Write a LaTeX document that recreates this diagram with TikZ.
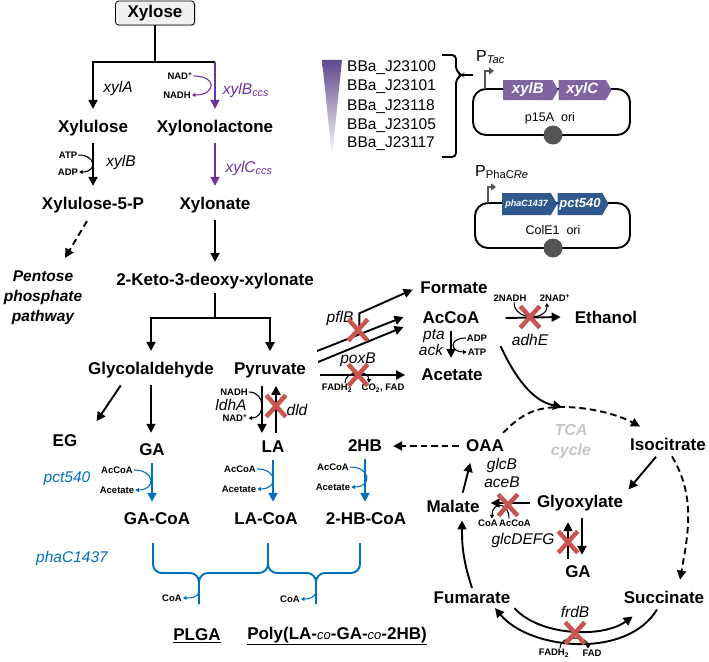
\documentclass[tikz,border=0pt]{standalone}
\usepackage{fontspec}
\setmainfont{Liberation Sans}
\usetikzlibrary{arrows.meta,shapes.misc,shapes.symbols,shadows}
\definecolor{pu}{RGB}{112,48,160}
\definecolor{pg}{RGB}{128,100,162}
\definecolor{tri}{RGB}{96,74,140}
\definecolor{bl}{RGB}{0,112,192}
\definecolor{bg}{RGB}{47,88,140}
\definecolor{xr}{RGB}{200,85,80}
\definecolor{dg}{RGB}{85,85,85}
\tikzset{
    MB/.style ={font=\fontsize{17}{20}\selectfont\bfseries, inner sep=4pt},
    XB/.style ={MB, rectangle, rounded corners=3pt, draw, thick, fill=gray!12, minimum width=79pt, minimum height=23pt, drop shadow={shadow xshift=1.5pt, shadow yshift=-1.5pt, fill=gray!60}},
    PP/.style ={font=\fontsize{15.5}{20}\selectfont\bfseries\itshape, align=center, inner sep=2pt},
    TC/.style ={PP, font=\fontsize{16}{20}\selectfont\bfseries\itshape, text=gray!45},
    EN/.style ={font=\fontsize{15.5}{17}\selectfont\itshape, inner sep=1pt},
    SM/.style ={font=\fontsize{9.5}{11}\selectfont\bfseries, inner sep=1pt},
    BB/.style ={font=\fontsize{15.5}{17}\selectfont, anchor=west, inner sep=0pt},
    GE/.style ={signal, signal to=east, signal pointer angle=120, anchor=west, minimum height=20pt, inner sep=0pt, text=white, font=\fontsize{15}{17}\selectfont\bfseries\itshape},
    AR/.style ={line width=1.9pt, -{Triangle[length=9pt,width=9pt]}},
    LN/.style ={line width=1.9pt},
    SH/.style ={shorten <=3pt, shorten >=7pt},
    DA/.style ={AR, dash pattern=on 6.5pt off 4pt},
    CF/.style ={line width=1.1pt, -{Triangle[length=3.5pt,width=4pt]}},
    BR/.style ={bl, line width=1.9pt, rounded corners=9pt},
    XX/.style ={cross out, draw=xr, line width=4.5pt, minimum width=15pt, minimum height=17pt, inner sep=0pt},
    OR/.style ={circle, fill=dg, minimum size=19pt, inner sep=0pt}}

\begin{document}
\begin{tikzpicture}[x=1pt,y=-1pt]
        \useasboundingbox (0,0) rectangle (709,661);
        \node[XB] (1) at (155,13){Xylose};
        \node[MB] (2) at (93,128){Xylulose};
        \node[MB] (3) at (215,128){Xylonolactone};
        \node[MB] (4) at (93,205){Xylulose-5-P};
        \node[MB] (5) at (215,205){Xylonate};
        \node[PP] (6) at (43,298){Pentose\\phosphate\\pathway};
        \node[MB] (7) at (215,281){2-Keto-3-deoxy-xylonate};
        \node[MB] (8) at (151,370){Glycolaldehyde};
        \node[MB] (9) at (270,370){Pyruvate};
        \node[MB] (10) at (65,441){EG};
        \node[MB] (11) at (152,450){GA};
        \node[MB] (12) at (273,447){LA};
        \node[MB] (13) at (365,446){2HB};
        \node[MB] (14) at (157,519){GA-CoA};
        \node[MB] (15) at (266,519){LA-CoA};
        \node[MB] (16) at (366,519){2-HB-CoA};
        \node[MB] (17) at (197,636){\underline{PLGA}};
        \node[MB] (18) at (337,636){\underline{Poly(LA-{\fontsize{13}{15}\selectfont\mdseries\itshape co}-GA-{\fontsize{13}{15}\selectfont\mdseries\itshape co}-2HB)}};
        \node[MB] (19) at (454,288){Formate};
        \node[MB] (20) at (451,318){AcCoA};
        \node[MB] (21) at (452,375){Acetate};
        \node[MB] (22) at (606,317){Ethanol};
        \node[MB] (23) at (485,446){OAA};
        \node[MB] (24) at (668,444){Isocitrate};
        \node[MB] (25) at (453,506){Malate};
        \node[MB] (26) at (580,503){Glyoxylate};
        \node[MB] (27) at (578,572){GA};
        \node[MB] (28) at (472,598){Fumarate};
        \node[MB] (29) at (664,597){Succinate};
        \node[TC] (30) at (571,442){TCA\\cycle};
        \node[EN] (e1) at (118,88){xylA};
        \node[EN, text=pu] (e2) at (246,90){xylB\textsubscript{ccs}};
        \node[EN] (e3) at (121,162){xylB};
        \node[EN, text=pu] (e4) at (249,168){xylC\textsubscript{ccs}};
        \node[EN] (e5) at (231,405){ldhA};
        \node[EN] (e6) at (297,410){dld};
        \node[EN, text=bl] (e7) at (67,479){pct540};
        \node[EN, text=bl] (e8) at (72,558){phaC1437};
        \node[EN] (e9) at (340,318){pflB};
        \node[EN] (e10) at (358,360){poxB};
        \node[EN] (e11) at (434,336){pta};
        \node[EN] (e12) at (431,350){ack};
        \node[EN] (e13) at (530,340){adhE};
        \node[EN] (e14) at (502,465){glcB};
        \node[EN] (e15) at (502,482){aceB};
        \node[EN] (e16) at (523,540){glcDEFG};
        \node[EN] (e17) at (575,612){frdB};
        \node[SM] (s1) at (180,76){NAD\textsuperscript{+}};
        \node[SM] (s2) at (177,95){NADH};
        \node[SM] (s3) at (68,155){ATP};
        \node[SM] (s4) at (68,172){ADP};
        \node[SM] (s5) at (234,392){NADH};
        \node[SM] (s6) at (235,418){NAD\textsuperscript{+}};
        \node[SM] (s7) at (117,470){AcCoA};
        \node[SM] (s8) at (117,490){Acetate};
        \node[SM] (s9) at (240,469){AcCoA};
        \node[SM] (s10) at (239,489){Acetate};
        \node[SM] (s11) at (333,467){AcCoA};
        \node[SM] (s12) at (333,487){Acetate};
        \node[SM] (s13) at (172,598){CoA};
        \node[SM] (s14) at (290,599){CoA};
        \node[SM] (s15) at (337,388){FADH\textsubscript{2}};
        \node[SM] (s16) at (383,388){CO\textsubscript{2}, FAD};
        \node[SM] (s17) at (477,338){ADP};
        \node[SM] (s18) at (477,352){ATP};
        \node[SM] (s19) at (510,298){2NADH};
        \node[SM] (s20) at (555,298){2NAD\textsuperscript{+}};
        \node[SM] (s21) at (488,523){CoA};
        \node[SM] (s22) at (515,523){AcCoA};
        \node[SM] (s23) at (554,653){FADH\textsubscript{2}};
        \node[SM] (s24) at (592,653){FAD};
        \node[BB] (b1) at (347,68){BBa\_J23100};
        \node[BB] (b2) at (347,87){BBa\_J23101};
        \node[BB] (b3) at (347,107){BBa\_J23118};
        \node[BB] (b4) at (347,126){BBa\_J23105};
        \node[BB] (b5) at (347,144){BBa\_J23117};
        \node[font=\fontsize{16}{18}\selectfont, inner sep=0pt, anchor=west] (p1) at (476,57){P\textsubscript{\itshape Tac}};
        \node[font=\fontsize{16}{18}\selectfont, inner sep=0pt, anchor=west] (p2) at (475,172){P\textsubscript{PhaC\itshape Re}};
        \node[font=\fontsize{12.5}{14}\selectfont] (p3) at (550,118){p15A~~ori};
        \node[font=\fontsize{12.5}{14}\selectfont] (p4) at (553,230){ColE1~~ori};
        \coordinate (c1) at (155,62);
        \coordinate (c2) at (215,318);
        \coordinate (t1) at (562,407);
        \coordinate (k1) at (199,604);
        \coordinate (k2) at (316,604);
        \draw[LN] (1) -- (c1);
        \draw[AR, shorten >=7pt] (c1) -| (2);
        \draw[LN] (c1) -- (c1 -| 3);
        \draw[AR, pu, shorten >=7pt] (c1 -| 3) -- (3);
        \draw[CF, pu] (s1.east) .. controls +(24,0) and +(24,0) .. (s2.east);
        \draw[AR, SH] (2) -- (4);
        \draw[CF] (s3.east) .. controls +(18,0) and +(18,0) .. (s4.east);
        \draw[AR, SH, pu] (3) -- (5);
        \draw[DA] ([xshift=-6pt,yshift=-4pt]4.south) -- ([xshift=22pt,yshift=11pt]6.north);
        \draw[AR, SH] (5) -- (7);
        \draw[LN] (7) -- (c2);
        \draw[AR, shorten >=7pt] (c2) -| (8);
        \draw[AR, shorten >=7pt] (c2) -| (9);
        \draw[AR, shorten <=4pt, shorten >=2pt] ([xshift=-28pt]8.south) -- ([xshift=14pt,yshift=8pt]10.north east);
        \draw[AR, SH] (8.south) -- (8.south |- 11.north);
        \draw[AR, shorten <=4pt, shorten >=4pt] ([xshift=-8pt]9.south) -- ([xshift=-11pt]12.north);
        \draw[CF] (s5.east) .. controls +(17,0) and +(17,0) .. (s6.east);
        \draw[AR, shorten <=4pt, shorten >=4pt] ([xshift=3pt]12.north) -- ([xshift=6pt]9.south);
        \draw[AR, SH, bl] (11.south) -- (11.south |- 14.north);
        \draw[CF, bl] (s7.east) .. controls +(21,0) and +(21,0) .. (s8.east);
        \draw[AR, SH, bl] (12.south) -- (12.south |- 15.north);
        \draw[CF, bl] (s9.east) .. controls +(21,0) and +(21,0) .. (s10.east);
        \draw[AR, SH, bl] (13.south) -- (13.south |- 16.north);
        \draw[CF, bl] (s11.east) .. controls +(21,0) and +(21,0) .. (s12.east);
        \draw[BR] ([xshift=-4pt,yshift=-14pt]14.south) |- ([yshift=31pt]k1) -- (k1);
        \draw[BR] ([xshift=2pt,yshift=-14pt]15.south) |- ([yshift=31pt]k1) -- (k1);
        \draw[BR] ([xshift=2pt,yshift=-14pt]15.south) |- ([yshift=31pt]k2) -- (k2);
        \draw[BR] ([xshift=-6pt,yshift=-14pt]16.south) |- ([yshift=31pt]k2) -- (k2);
        \draw[CF, bl] ([yshift=14pt]k1) .. controls +(0,8) and +(8,0) .. (s13.east);
        \draw[CF, bl] ([yshift=14pt]k2) .. controls +(0,8) and +(8,0) .. (s14.east);
        \draw[AR] ([xshift=7pt,yshift=19pt]9.east) -- ([xshift=-15pt,yshift=1pt]20.west) coordinate[pos=0.49] (f1);
        \draw[AR, shorten >=4pt] (f1) -- ++(0,-21) -- (19.west);
        \draw[AR] ([xshift=8pt,yshift=8pt]9.east) -- ([xshift=-15pt,yshift=-9pt]20.west);
        \draw[AR] ([xshift=10pt,yshift=-5pt]9.east) -- ([xshift=-12pt]21.west);
        \draw[CF] ([xshift=8pt]s15.north) .. controls +(0,-13) and +(0,-13) .. ([xshift=-14pt]s16.north);
        \draw[AR] ([xshift=22pt]20.east) -- ([xshift=-10pt]22.west);
        \draw[CF] ([xshift=4pt]s19.south) .. controls +(0,18) and +(0,18) .. ([xshift=-8pt]s20.south);
        \draw[AR, SH] (20.south) -- (20.south |- 21.north);
        \draw[CF] (s17.west) .. controls +(-17,0) and +(-17,0) .. (s18.west);
        \draw[AR] ([xshift=17pt,yshift=-18pt]20.south east) .. controls +(14,30) and +(-30,-6) .. (t1);
        \draw[DA] ([xshift=-5pt,yshift=3pt]23.north east) .. controls +(18,-18) and +(-28,0) .. (t1) .. controls +(28,0) and +(-22,-12) .. ([xshift=14pt,yshift=7pt]24.north west);
        \draw[DA, SH] (23) -- (13);
        \draw[AR, shorten <=3pt, shorten >=2pt] ([xshift=-10pt]24.south) -- (26.north east);
        \draw[DA] ([xshift=4pt,yshift=-2pt]24.south) .. controls +(24,40) and +(8,-45) .. ([xshift=16pt,yshift=7pt]29.north);
        \draw[AR, SH] (26.west) -- (26.west -| 25.east);
        \draw[CF] ([xshift=-6pt]s22.north) .. controls +(0,-17) and +(0,-17) .. ([xshift=4pt]s21.north);
        \draw[AR, SH] ([xshift=9pt]25.north) -- ([xshift=-13pt]23.south);
        \draw[AR, shorten >=4pt] (28.north) .. controls +(-10,-30) and +(0,25) .. ([xshift=9pt]25.south);
        \draw[AR, SH] ([xshift=2pt]26.south) -- ([xshift=4pt]27.north);
        \draw[AR, SH] ([xshift=-10pt]27.north) -- ([xshift=-12pt]26.south);
        \draw[AR] (28.south east) .. controls +(25,28) and +(-30,22) .. ([xshift=13pt,yshift=-9pt]29.south west);
        \draw[AR] ([xshift=-7pt,yshift=-2pt]29.south) .. controls +(-30,50) and +(35,42) .. ([xshift=23pt]28.south);
        \draw[CF] ([xshift=6pt]s23.north) .. controls +(0,-13) and +(0,-13) .. ([xshift=-4pt]s24.north);
        \shade[top color=tri, bottom color=white] (322,60) -- (342,60) -- (332,157) -- cycle;
        \draw[LN, rounded corners=4pt] (442,55) -- (456,55) -- (456,71) -- (462,75) -- (456,79) -- (456,157) -- (442,157);
        \draw[LN] (462,75) -- (473,75);
        \draw[LN, rounded corners=13pt] (473,89) rectangle (630,135);
        \draw[LN, rounded corners=13pt] (475,203) rectangle (630,248);
        \draw[dg, line width=1.9pt, -{Triangle[length=5pt,width=7pt]}] (485,89) -- (485,71) -- (494,71);
        \draw[dg, line width=1.9pt, -{Triangle[length=5pt,width=7pt]}] (488,203) -- (488,187) -- (496,187);
        \node[GE, fill=pg, minimum width=55pt] (g1) at (503,90){xylB};
        \node[GE, fill=pg, minimum width=53pt] (g2) at (g1.east){xylC};
        \node[GE, fill=bg, minimum width=55pt, minimum height=22pt, font=\fontsize{9}{11}\selectfont\bfseries\itshape] (g3) at (502,204){phaC1437};
        \node[GE, fill=bg, minimum width=51pt, minimum height=22pt, font=\fontsize{13}{15}\selectfont\bfseries\itshape] (g4) at (g3.east){pct540};
        \node[OR] (o1) at (553,135){};
        \node[OR] (o2) at (553,248){};
        \node[XX] (x1) at (358,330){};
        \node[XX] (x2) at (358,375){};
        \node[XX] (x3) at (276,406){};
        \node[XX] (x4) at (530,317){};
        \node[XX] (x5) at (508,505){};
        \node[XX] (x6) at (568,542){};
        \node[XX] (x7) at (575,633){};
    \end{tikzpicture}
\end{document}
